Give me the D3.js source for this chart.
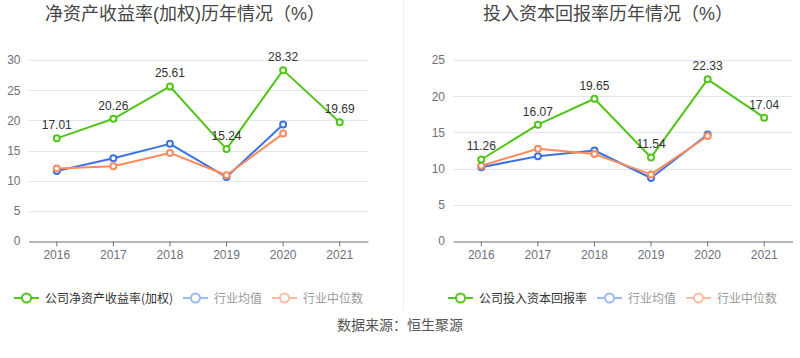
<!DOCTYPE html>
<html><head><meta charset="utf-8">
<script src="https://cdn.jsdelivr.net/npm/d3@7"></script>
<style>
html,body{margin:0;padding:0;background:#fff;}
svg{display:block;font-family:"Liberation Sans","Noto Sans CJK SC",sans-serif;}
</style></head>
<body>
<svg id="c" width="800" height="358"></svg>
<script>
const years = ["2016","2017","2018","2019","2020","2021"];
// Left chart: ROE (weighted)
const roeCompany = [17.01, 20.26, 25.61, 15.24, 28.32, 19.69];
const roeIndustryMean = [11.6, 13.7, 16.1, 10.6, 19.3, null];
const roeIndustryMedian = [12.0, 12.4, 14.6, 10.9, 17.8, null];
const roeTicks = [0, 5, 10, 15, 20, 25, 30];
// Right chart: ROIC
const roicCompany = [11.26, 16.07, 19.65, 11.54, 22.33, 17.04];
const roicIndustryMean = [10.2, 11.7, 12.5, 8.7, 14.7, null];
const roicIndustryMedian = [10.4, 12.75, 12.0, 9.2, 14.5, null];
const roicTicks = [0, 5, 10, 15, 20, 25];

const titles = ["净资产收益率(加权)历年情况（%）", "投入资本回报率历年情况（%）"];
const legendNames = [["公司净资产收益率(加权)", "行业均值", "行业中位数"], ["公司投入资本回报率", "行业均值", "行业中位数"]];
const source = "数据来源：恒生聚源";

const colors = ["#52c41a", "#3b73e3", "#fd8a5c"];
const legendColors = ["#52c41a", "#9db9f2", "#fdbda4"];
const legendText = ["#333", "#999", "#999"];

const svg = d3.select("#c");

// divider
svg.append("line").attr("x1", 403.5).attr("x2", 403.5).attr("y1", 0).attr("y2", 310)
  .attr("stroke", "#eeeeee").attr("stroke-width", 1);

function drawChart(cfg) {
  const g = svg.append("g");
  const x = d3.scaleBand().domain(years).range([cfg.x0, cfg.x1]);
  const y = d3.scaleLinear().domain([0, cfg.max]).range([241, 60]);

  // title
  g.append("text").attr("x", cfg.titleX).attr("y", 20).attr("text-anchor", "middle")
    .attr("font-size", 18).attr("fill", "#464646").text(cfg.title);

  // gridlines
  g.selectAll(".grid").data(cfg.ticks.filter(t => t > 0)).enter().append("line")
    .attr("x1", cfg.x0).attr("x2", cfg.x1)
    .attr("y1", d => Math.round(y(d)) + 0.5).attr("y2", d => Math.round(y(d)) + 0.5)
    .attr("stroke", "#e0e6f1").attr("stroke-width", 1);

  // y axis labels
  const yAxis = d3.axisLeft(y).tickValues(cfg.ticks).tickSize(0).tickPadding(8);
  const ya = g.append("g").attr("transform", `translate(${cfg.x0},0)`).call(yAxis);
  ya.select(".domain").remove();
  ya.selectAll("text").attr("font-size", 12).attr("fill", "#6e7079")
    .attr("font-family", "Liberation Sans, sans-serif");

  // x axis
  const xAxis = d3.axisBottom(x).tickSizeOuter(0).tickSizeInner(5).tickPadding(4);
  const xa = g.append("g").attr("transform", `translate(0,${241.5})`).call(xAxis);
  xa.select(".domain").attr("stroke", "#6e7079");
  xa.selectAll(".tick line").attr("stroke", "#6e7079");
  xa.selectAll("text").attr("font-size", 12).attr("fill", "#6e7079")
    .attr("font-family", "Liberation Sans, sans-serif");

  const cx = d => x(d) + x.bandwidth() / 2;
  const series = [cfg.company, cfg.mean, cfg.median];
  // draw order: mean, median, company on top
  [1, 2, 0].forEach(si => {
    const vals = series[si];
    const pts = years.map((yr, i) => ({ yr, v: vals[i] })).filter(p => p.v != null);
    const line = d3.line().x(p => cx(p.yr)).y(p => y(p.v));
    g.append("path").datum(pts).attr("d", line).attr("fill", "none")
      .attr("stroke", colors[si]).attr("stroke-width", 2).attr("stroke-linejoin", "round");
    g.selectAll(null).data(pts).enter().append("circle")
      .attr("cx", p => cx(p.yr)).attr("cy", p => y(p.v)).attr("r", 3)
      .attr("fill", "#fff").attr("stroke", colors[si]).attr("stroke-width", 2);
    if (si === 0) {
      g.selectAll(null).data(pts).enter().append("text")
        .attr("x", p => cx(p.yr)).attr("y", p => y(p.v) - 9)
        .attr("text-anchor", "middle").attr("font-size", 12).attr("fill", "#333")
        .text(p => p.v.toFixed(2));
    }
  });

  // legend
  cfg.legend.forEach((lg, i) => {
    const lgG = g.append("g").attr("transform", `translate(${lg.x},298)`);
    lgG.append("line").attr("x1", 0).attr("x2", 25).attr("y1", 0).attr("y2", 0)
      .attr("stroke", legendColors[i]).attr("stroke-width", 2);
    lgG.append("circle").attr("cx", 12.5).attr("cy", 0).attr("r", 4.5)
      .attr("fill", "#fff").attr("stroke", legendColors[i]).attr("stroke-width", 2);
    lgG.append("text").attr("x", 31).attr("y", 4.5).attr("font-size", 12)
      .attr("font-family", "Noto Sans CJK SC, sans-serif")
      .attr("fill", legendText[i]).text(cfg.legendNames[i]);
  });
}

drawChart({
  x0: 28.5, x1: 368, max: 30, ticks: roeTicks, title: titles[0], titleX: 185,
  company: roeCompany, mean: roeIndustryMean, median: roeIndustryMedian,
  legendNames: legendNames[0], legend: [{ x: 14 }, { x: 183 }, { x: 272 }]
});
drawChart({
  x0: 453, x1: 792.5, max: 25, ticks: roicTicks, title: titles[1], titleX: 608,
  company: roicCompany, mean: roicIndustryMean, median: roicIndustryMedian,
  legendNames: legendNames[1], legend: [{ x: 448 }, { x: 597 }, { x: 686 }]
});

svg.append("text").attr("x", 400).attr("y", 330).attr("text-anchor", "middle")
  .attr("font-size", 14).attr("fill", "#555").attr("font-family", "Noto Sans CJK SC, sans-serif")
  .text(source);
</script>
</body></html>
